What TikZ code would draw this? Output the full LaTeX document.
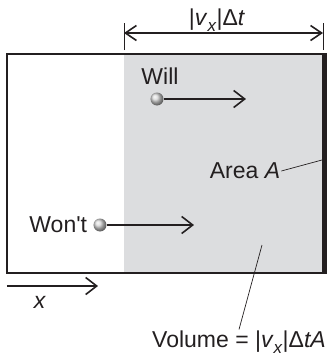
\documentclass[tikz,border=0pt]{standalone}
\usepackage{fontspec}
\setmainfont{Liberation Sans}
\usetikzlibrary{arrows.meta,positioning}
\definecolor{inkc}{HTML}{231F20}
\definecolor{volc}{HTML}{DCDDDF}
\newcommand{\vx}{\textit{v}\raisebox{-0.26em}{\fontsize{17}{17}\selectfont\textit{x}}}
\tikzset{
  ar/.style={-{Straight Barb[length=11pt,width=17pt,line width=1.6pt]},line width=1.1pt,inkc},
  dimar/.style={{Straight Barb[length=11pt,width=15pt,line width=1.6pt]}-{Straight Barb[length=11pt,width=15pt,line width=1.6pt]},line width=1.1pt,inkc},
  ball/.style={circle,shading=ball,ball color=gray!32,minimum size=13pt,inner sep=0pt},
  lbl/.style={font=\fontsize{23}{25}\selectfont,text=inkc,inner sep=1pt},
  lead/.style={line width=0.7pt,inkc}
}
\begin{document}
\begin{tikzpicture}[x=1pt,y=1pt]
\useasboundingbox (0,0) rectangle (328,360);
% box and volume
\fill[volc] (124,87) rectangle (322,306);
\draw[line width=1.1pt,inkc] (7,87) rectangle (326,306);
\fill[inkc] (322,87) rectangle (326,306);
% width of the slab
\draw[lead] (124,310) -- (124,337) (323,310) -- (323,337);
\coordinate (dl) at (124,327);
\coordinate (dr) at (323,327);
\draw[dimar] (dl) -- (dr);
\node[lbl] (dt) at (217,340) {|\vx|Δ\textit{t}};
% molecules
\node[ball] (bw) at (157,261) {};
\node[lbl] (will) at (160,284) {Will};
\coordinate (aw) at (246,261);
\draw[ar] (bw) -- (aw);
\node[ball] (bn) at (100,135) {};
\node[lbl,left=5pt of bn] (wont) {Won\textquotesingle t};
\coordinate (an) at (194,135);
\draw[ar] (bn) -- (an);
% labels
\node[lbl] (area) at (245,189) {Area \textit{A}};
\coordinate (ae) at (322,200);
\draw[lead] (area.east) -- (ae);
\node[lbl] (vol) at (239,18) {Volume = |\vx|Δ\textit{tA}};
\coordinate (vi) at (262,115);
\draw[lead] (vol.north) -- (vi);
% x axis
\coordinate (xa) at (7,74);
\coordinate (xb) at (98,74);
\draw[ar] (xa) -- (xb);
\node[lbl] (xl) at (40,58) {\textit{x}};
\end{tikzpicture}
\end{document}
